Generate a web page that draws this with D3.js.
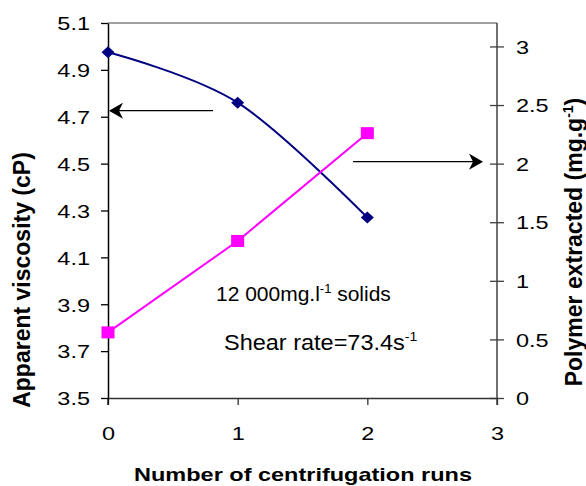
<!DOCTYPE html>
<html>
<head>
<meta charset="utf-8">
<script src="https://cdn.jsdelivr.net/npm/d3@7"></script>
<style>
  html, body { margin: 0; padding: 0; background: #fff; }
  svg { display: block; font-family: "Liberation Sans", Arial, sans-serif; }
</style>
</head>
<body>
<svg id="chart" width="586" height="486"></svg>
<script>
// ---- data ----
const runs = [0, 1, 2];
const viscosity = [4.975, 4.76, 4.27];      // cP, left axis
const polymer = [0.56, 1.34, 2.26];         // mg.g-1, right axis
const xTicks = [0, 1, 2, 3];
const leftTicks = [3.5, 3.7, 3.9, 4.1, 4.3, 4.5, 4.7, 4.9, 5.1];
const rightTicks = [0, 0.5, 1, 1.5, 2, 2.5, 3];
const xTitle = "Number of centrifugation runs";
const leftTitle = "Apparent viscosity (cP)";
const rightTitle = "Polymer extracted (mg.g";
const note1 = "12 000mg.l";
const note2 = "Shear rate=73.4s";

const svg = d3.select("#chart");
const L = 108, R = 497, T = 23, B = 398;

const x = d3.scaleLinear().domain([0, 3]).range([L, R]);
const yL = d3.scaleLinear().domain([3.5, 5.1]).range([B, T]);
const yR = d3.scaleLinear().domain([0, 3.2]).range([B, T]);

// frame top line
svg.append("line").attr("x1", L).attr("x2", R).attr("y1", T).attr("y2", T)
  .attr("stroke", "#808080").attr("stroke-width", 1.5);

// left axis
const gL = svg.append("g").attr("transform", `translate(${L},0)`)
  .call(d3.axisLeft(yL).tickValues(leftTicks).tickSize(7).tickSizeOuter(0)
    .tickFormat(d3.format(".1f")));
gL.select(".domain").attr("stroke", "#000").attr("stroke-width", 1.5);
gL.selectAll(".tick line").attr("stroke", "#000").attr("stroke-width", 1.3);
gL.selectAll(".tick text").attr("x", null).attr("dy", null)
  .attr("transform", "translate(-18,0) scale(1,0.82)")
  .attr("dy", "0.35em").attr("font-size", 23.5).attr("fill", "#000").attr("text-anchor", "end");

// right axis
const gR = svg.append("g").attr("transform", `translate(${R},0)`)
  .call(d3.axisRight(yR).tickValues(rightTicks).tickSize(7).tickSizeOuter(0)
    .tickFormat(d3.format("~g")));
gR.select(".domain").attr("stroke", "#404040").attr("stroke-width", 1.5)
  .attr("d", `M0,${T}V${B + 7}`);
gR.selectAll(".tick line").attr("x1", -7).attr("x2", 7).attr("stroke", "#404040").attr("stroke-width", 1.3);
gR.selectAll(".tick text").attr("x", null).attr("dy", null)
  .attr("transform", "translate(19,0) scale(1,0.82)")
  .attr("dy", "0.35em").attr("font-size", 23.5).attr("fill", "#000").attr("text-anchor", "start");

// bottom axis
const gB = svg.append("g").attr("transform", `translate(0,${B})`)
  .call(d3.axisBottom(x).tickValues(xTicks).tickSize(7).tickSizeOuter(0)
    .tickFormat(d3.format("d")));
gB.select(".domain").attr("stroke", "#333").attr("stroke-width", 1.5);
gB.selectAll(".tick line").attr("stroke", "#333").attr("stroke-width", 1.3);
gB.selectAll(".tick text").attr("y", null).attr("dy", null)
  .attr("transform", "translate(0,35) scale(1,0.82)")
  .attr("dy", "0.35em").attr("font-size", 23.5).attr("fill", "#000");
// left axis extension below
svg.append("line").attr("x1", L).attr("x2", L).attr("y1", B).attr("y2", B + 7)
  .attr("stroke", "#000").attr("stroke-width", 1.3);

// titles
svg.append("g").attr("transform", "translate(303,481) scale(1,0.8)")
  .append("text").attr("text-anchor", "middle").attr("font-weight", "bold")
  .attr("font-size", 23.5).text(xTitle);
svg.append("text").attr("transform", "translate(30,280) rotate(-90)")
  .attr("text-anchor", "middle").attr("font-weight", "bold").attr("font-size", 23)
  .text(leftTitle);
const rt = svg.append("text").attr("transform", "translate(582,242) rotate(-90)")
  .attr("text-anchor", "middle").attr("font-weight", "bold").attr("font-size", 23);
rt.append("tspan").text(rightTitle);
rt.append("tspan").attr("font-size", 14).attr("dy", -9).text("-1");
rt.append("tspan").attr("dy", 9).text(")");

// arrows
const defs = svg.append("defs");
defs.append("marker").attr("id", "arr").attr("viewBox", "0 0 14 16")
  .attr("refX", 13).attr("refY", 8).attr("markerWidth", 14).attr("markerHeight", 16)
  .attr("markerUnits", "userSpaceOnUse").attr("orient", "auto")
  .append("path").attr("d", "M0,0 L14,8 L0,16 L4,8 Z").attr("fill", "#000");
svg.append("line").attr("x1", 213).attr("x2", 110).attr("y1", yL(4.76) + 8).attr("y2", yL(4.76) + 8)
  .attr("stroke", "#000").attr("stroke-width", 1.3).attr("marker-end", "url(#arr)");
svg.append("line").attr("x1", 353).attr("x2", 482).attr("y1", yR(2) - 2).attr("y2", yR(2) - 2)
  .attr("stroke", "#000").attr("stroke-width", 1.3).attr("marker-end", "url(#arr)");

// viscosity series (smoothed)
const vData = runs.map((r, i) => [r, viscosity[i]]);
svg.append("path").datum(vData)
  .attr("d", d3.line().x(d => x(d[0])).y(d => yL(d[1])).curve(d3.curveCardinal.tension(0)))
  .attr("fill", "none").attr("stroke", "#000080").attr("stroke-width", 2);
svg.selectAll(".dia").data(vData).enter().append("path")
  .attr("transform", d => `translate(${x(d[0])},${yL(d[1])})`)
  .attr("d", "M0,-6L6.5,0L0,6L-6.5,0Z").attr("fill", "#000080");

// polymer series
const pData = runs.map((r, i) => [r, polymer[i]]);
svg.append("path").datum(pData)
  .attr("d", d3.line().x(d => x(d[0])).y(d => yR(d[1])))
  .attr("fill", "none").attr("stroke", "#FF00FF").attr("stroke-width", 2);
svg.selectAll(".sq").data(pData).enter().append("rect")
  .attr("x", d => x(d[0]) - 6.5).attr("y", d => yR(d[1]) - 6)
  .attr("width", 13).attr("height", 12).attr("fill", "#FF00FF");

// annotations
const n1 = svg.append("g").attr("transform", "translate(216,301) scale(1,0.92)")
  .append("text").attr("font-size", 21);
n1.append("tspan").text(note1);
n1.append("tspan").attr("font-size", 13).attr("dy", -9).text("-1");
n1.append("tspan").attr("dy", 9).text(" solids");
const n2 = svg.append("g").attr("transform", "translate(224,350) scale(1,0.92)")
  .append("text").attr("font-size", 23.5);
n2.append("tspan").text(note2);
n2.append("tspan").attr("font-size", 14).attr("dy", -10).text("-1");
</script>
</body>
</html>
